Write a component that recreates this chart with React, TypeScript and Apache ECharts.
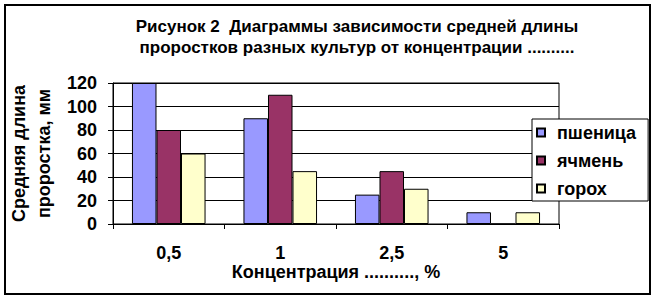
import React, { useEffect, useRef } from "react";
import * as echarts from "echarts";

const categories = ["0,5", "1", "2,5", "5"];
const wheat = [120, 90, 25, 10];
const barley = [80, 110, 45, 0];
const peas = [60, 45, 30, 10];
const seriesNames = ["пшеница", "ячмень", "горох"];
const titleLines = [
  "Рисунок 2  Диаграммы зависимости средней длины",
  "проростков разных культур от концентрации ..........",
];
const yAxisTitle = "Средняя длина\nпроростка, мм";
const xAxisTitle = "Концентрация .........., %";

const FONT = "'Liberation Sans', Arial, sans-serif";

export default function App() {
  const ref = useRef<HTMLDivElement>(null);
  useEffect(() => {
    if (!ref.current) return;
    const chart = echarts.init(ref.current, null, { renderer: "svg" });
    const bar = (name: string, data: number[], color: string) => ({
      name,
      type: "bar",
      data,
      barGap: "0%",
      barCategoryGap: "34%",
      itemStyle: { color, borderColor: "#000", borderWidth: 1 },
    });
    chart.setOption({
      animation: false,
      backgroundColor: "#fff",
      textStyle: { fontFamily: FONT },
      grid: {
        left: 113,
        right: 98,
        top: 83,
        bottom: 76,
        show: true,
        borderColor: "#000",
        borderWidth: 1,
        containLabel: false,
        outerBoundsMode: "none",
      },
      xAxis: {
        type: "category",
        data: categories,
        name: xAxisTitle,
        nameLocation: "middle",
        nameGap: 39,
        nameTextStyle: { fontFamily: FONT, fontWeight: "bold", fontSize: 18, color: "#000" },
        axisLine: { lineStyle: { color: "#000", width: 1 } },
        axisTick: { show: true, length: 5, lineStyle: { color: "#000" }, alignWithLabel: false },
        axisLabel: { fontFamily: FONT, fontWeight: "bold", fontSize: 18, color: "#000", margin: 20 },
        splitLine: { show: false },
      },
      yAxis: {
        type: "value",
        min: 0,
        max: 120,
        interval: 20,
        name: yAxisTitle,
        nameLocation: "middle",
        nameGap: 50,
        nameTextStyle: { fontFamily: FONT, fontWeight: "bold", fontSize: 18, color: "#000", lineHeight: 25, align: "center" },
        axisLine: { show: true, lineStyle: { color: "#000", width: 1 } },
        axisTick: { show: true, length: 5, lineStyle: { color: "#000" } },
        axisLabel: { fontFamily: FONT, fontWeight: "bold", fontSize: 18, color: "#000", margin: 16 },
        splitLine: { show: true, lineStyle: { color: "#000", width: 1 } },
      },
      legend: {
        orient: "vertical",
        left: 532,
        top: 119,
        padding: [4, 12, 3, 4],
        itemGap: 9,
        itemWidth: 8,
        itemHeight: 8,
        icon: "rect",
        backgroundColor: "#fff",
        borderColor: "#000",
        borderWidth: 1,
        borderRadius: 0,
        textStyle: { fontFamily: FONT, fontWeight: "bold", fontSize: 18, color: "#000", lineHeight: 19, padding: [0, 0, 0, 7] },
        data: seriesNames,
      },
      graphic: [
        {
          type: "rect",
          shape: { x: 5, y: 5, width: 645, height: 289 },
          style: { fill: "none", stroke: "#000", lineWidth: 2 },
          silent: true,
        },
        {
          type: "text",
          x: 357,
          y: 16,
          style: {
            text: titleLines.join("\n"),
            fontFamily: FONT,
            fontWeight: "bold",
            fontSize: 17,
            lineHeight: 21,
            fill: "#000",
            textAlign: "center",
            textVerticalAlign: "top",
          },
        },
      ],
      series: [
        bar(seriesNames[0], wheat, "#9999FF"),
        bar(seriesNames[1], barley, "#993366"),
        bar(seriesNames[2], peas, "#FFFFCC"),
      ],
    });
    return () => chart.dispose();
  }, []);
  return (
    <div
      ref={ref}
      style={{ position: "fixed", left: 0, top: 0, width: 657, height: 300 }}
    />
  );
}
